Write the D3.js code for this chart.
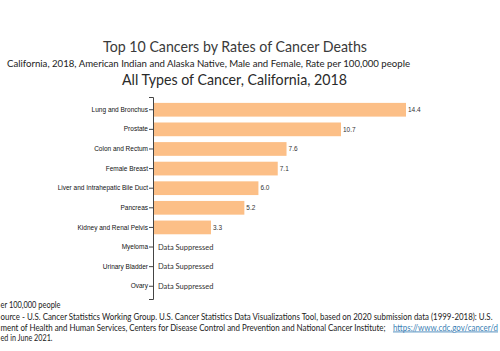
<!DOCTYPE html>
<html>
<head>
<meta charset="utf-8">
<script src="https://cdn.jsdelivr.net/npm/d3@7"></script>
<style>
  body { margin: 0; background: #fff; overflow: hidden; }
  svg { display: block; }
</style>
</head>
<body>
<div id="chart"></div>
<script>
// chart data
var cancers = ["Lung and Bronchus", "Prostate", "Colon and Rectum", "Female Breast",
    "Liver and Intrahepatic Bile Duct", "Pancreas", "Kidney and Renal Pelvis",
    "Myeloma", "Urinary Bladder", "Ovary"];
var rates = [14.4, 10.7, 7.6, 7.1, 6.0, 5.2, 3.3, null, null, null];

var titleText = "Top 10 Cancers by Rates of Cancer Deaths";
var subtitleText = "California, 2018, American Indian and Alaska Native, Male and Female, Rate per 100,000 people";
var title2Text = "All Types of Cancer, California, 2018";

// footer lines as they show in the picture (cut at the left edge)
var footLines = [
    "er 100,000 people",
    "ource - U.S.  Cancer Statistics Working Group. U.S.  Cancer Statistics Data Visualizations Tool, based on 2020 submission data (1999-2018): U.S.",
    "ment  of Health and Human Services, Centers  for Disease Control and Prevention  and National Cancer Institute;",
    "ed in June  2021."
];
var footLink = "https://www.cdc.gov/cancer/d";

var data = cancers.map(function (c, i) { return {name: c, rate: rates[i]}; });

var setWidth = 500;
var setHeight = 351;
var margin = {top: 97, left: 153};

var svg = d3.select("#chart")
    .append("svg")
    .attr("width", setWidth)
    .attr("height", setHeight);

// titles
svg.append("text")
    .attr("x", 235).attr("y", 52)
    .attr("text-anchor", "middle")
    .attr("textLength", 264).attr("lengthAdjust", "spacingAndGlyphs")
    .style("font-family", "Lato, 'Open Sans', sans-serif")
    .style("font-size", "15px")
    .style("fill", "#3a3a3a")
    .text(titleText);

svg.append("text")
    .attr("x", 208.5).attr("y", 66.5)
    .attr("text-anchor", "middle")
    .attr("textLength", 403).attr("lengthAdjust", "spacingAndGlyphs")
    .style("font-family", "Lato, 'Open Sans', sans-serif")
    .style("font-size", "9px")
    .style("fill", "#222")
    .text(subtitleText);

svg.append("text")
    .attr("x", 234.5).attr("y", 85)
    .attr("text-anchor", "middle")
    .attr("textLength", 225).attr("lengthAdjust", "spacingAndGlyphs")
    .style("font-family", "Lato, 'Open Sans', sans-serif")
    .style("font-size", "16px")
    .style("fill", "#2a2a2a")
    .text(title2Text);

// scales
var x = d3.scaleLinear()
    .domain([0, 14.4])
    .range([0, 253]);

var y = d3.scaleBand()
    .domain(cancers)
    .range([0, 202])
    .padding(0.3);

var g = svg.append("g")
    .attr("transform", "translate(" + margin.left + "," + margin.top + ")");

// bars
g.selectAll("rect")
    .data(data.filter(function (d) { return d.rate != null; }))
    .join("rect")
    .attr("x", 0)
    .attr("y", function (d) { return y(d.name); })
    .attr("width", function (d) { return x(d.rate); })
    .attr("height", y.bandwidth())
    .style("fill", "#fcbf87");

// value labels
g.selectAll(".val")
    .data(data)
    .join("text")
    .attr("class", "val")
    .attr("x", function (d) { return d.rate != null ? x(d.rate) + 2 : 5; })
    .attr("y", function (d) { return y(d.name) + y.bandwidth() / 2; })
    .attr("dy", "0.35em")
    .style("font-family", function (d) { return d.rate != null ? "Arial, 'Liberation Sans', sans-serif" : "Lato, sans-serif"; })
    .style("font-size", function (d) { return d.rate != null ? "6.5px" : "7.5px"; })
    .style("fill", "#333")
    .text(function (d) { return d.rate != null ? d3.format(".1f")(d.rate) : "Data Suppressed"; });

// y axis
var yAxis = g.append("g")
    .call(d3.axisLeft(y).tickSize(4).tickSizeOuter(4).tickPadding(1));

yAxis.select(".domain").style("stroke", "#444");
yAxis.selectAll(".tick line").style("stroke", "#444");
yAxis.selectAll(".tick text")
    .style("font-family", "Arial, 'Liberation Sans', sans-serif")
    .style("font-size", "6.5px")
    .style("fill", "#111");

// footer
var foot = svg.append("g")
    .style("font-family", "Lato, 'Open Sans', sans-serif")
    .style("font-size", "8.5px")
    .style("fill", "#222");

var footY = [308, 320, 330.5, 341];
var footLen = [60, 492, 385, 52];

footLines.forEach(function (l, i) {
    foot.append("text")
        .attr("x", 0.5).attr("y", footY[i])
        .attr("textLength", footLen[i]).attr("lengthAdjust", "spacingAndGlyphs")
        .text(l);
});

foot.append("text")
    .attr("x", 393).attr("y", footY[2])
    .attr("textLength", 105).attr("lengthAdjust", "spacingAndGlyphs")
    .style("fill", "#3b7fb5")
    .style("text-decoration", "underline")
    .text(footLink);
</script>
</body>
</html>
